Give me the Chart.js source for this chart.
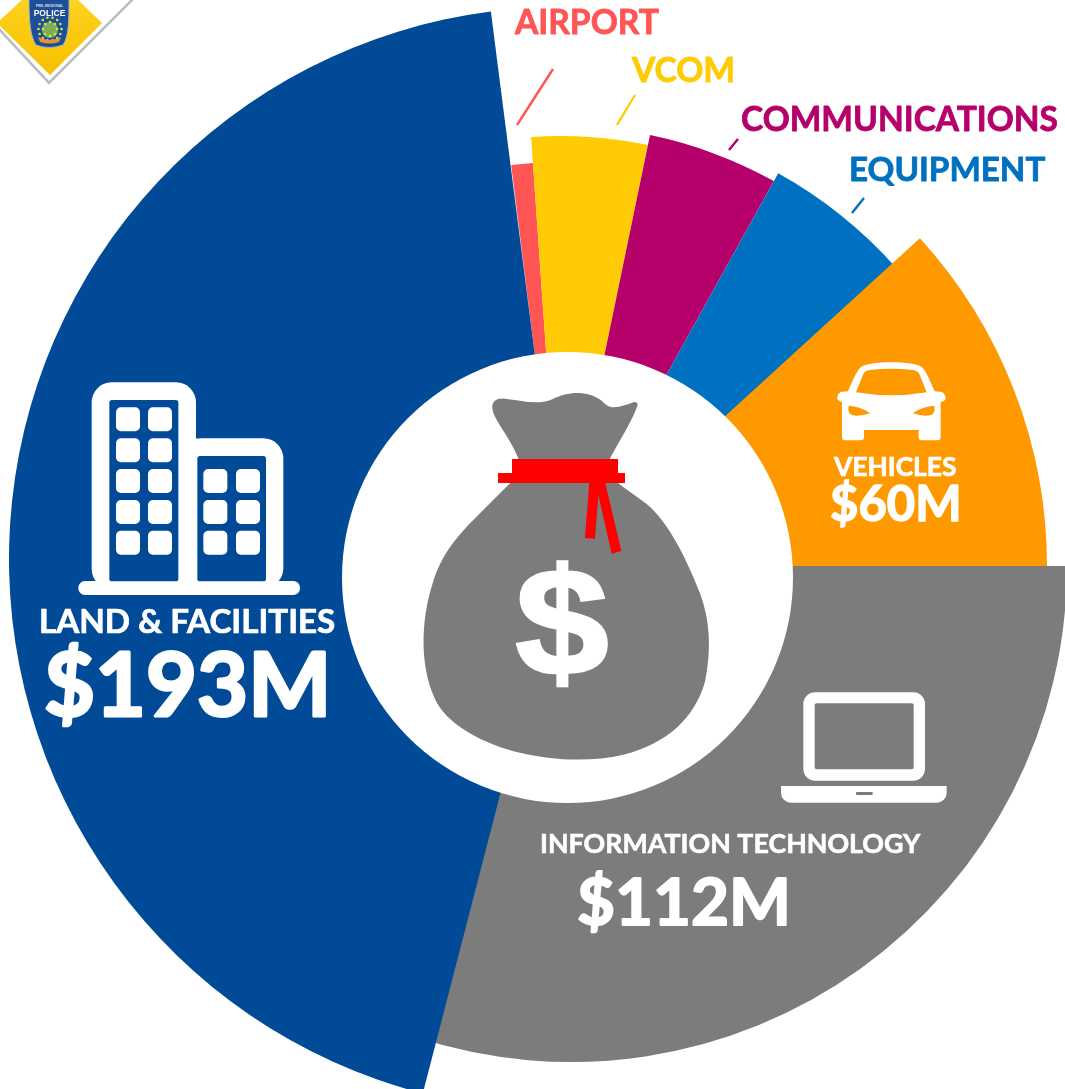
<!DOCTYPE html>
<html><head><meta charset="utf-8">
<style>html,body{margin:0;padding:0;background:#fff;overflow:hidden}#wrap{position:absolute;left:0;top:0;width:1065px;height:1089px}</style>
<script src="https://cdn.jsdelivr.net/npm/chart.js@4"></script>
</head><body><div id="wrap"><canvas id="c" width="1065" height="1089"></canvas></div>
<script>
const categories = ['Airport','VCOM','Communications','Equipment','Vehicles','Information Technology','Land & Facilities'];
const outerReach = [403, 429, 439, 448, 486, 496, 552];
const sweepDegrees = [3.1, 15.7, 17.3, 18.6, 42.4, 104.5, 158.2];
const sliceColors = ['#ff5555','#ffcb05','#b5006b','#0070c0','#ff9900','#7c7c7c','#004a97'];
const firstSliceStart = 352.9;
const sliceShiftX = [0, 0, 0, 0, 0, 10, 0];
const sliceShiftY = [0, 0, 0, 0, 1, 1, -6];
const sliceTuck = [0, 0, 0, 0.6, 0, 4, 0];
const GREY = '#7c7c7c', BLUE = '#004a97', ORANGE = '#ff9900';

function rr(ctx,x,y,w,h,r){ctx.beginPath();ctx.roundRect(x,y,w,h,r);}
function zone(ctx,ox,oy,fn){ctx.save();ctx.translate(ox,oy);ctx.scale(1/3,1/3);fn();ctx.restore();}
function txt(ctx,s,x,y,size,color,heavy){ctx.font='bold '+size+'px Lato';ctx.fillStyle=color;ctx.strokeStyle=color;ctx.lineJoin='round';ctx.lineWidth=heavy;ctx.textAlign='left';ctx.textBaseline='alphabetic';ctx.strokeText(s,x,y);ctx.fillText(s,x,y);}
function line(ctx,a,b,c,d,color){ctx.strokeStyle=color;ctx.lineWidth=2.4;ctx.beginPath();ctx.moveTo(a,b);ctx.lineTo(c,d);ctx.stroke();}

function drawLogo(ctx){
  ctx.strokeStyle='#bdbdbd';ctx.lineWidth=2.6;ctx.beginPath();ctx.moveTo(-2,28);ctx.lineTo(49,83);ctx.lineTo(134,-2);ctx.stroke();
  const g=ctx.createLinearGradient(0,0,0,75);g.addColorStop(0,'#ffd21f');g.addColorStop(1,'#f5c000');
  ctx.fillStyle=g;ctx.beginPath();ctx.moveTo(-3,23);ctx.lineTo(25,-3);ctx.lineTo(75,-3);ctx.lineTo(102,23);ctx.lineTo(50,75);ctx.closePath();ctx.fill();
  ctx.fillStyle='#1c4f96';ctx.strokeStyle='#9fb3c8';ctx.lineWidth=1;ctx.beginPath();ctx.moveTo(29,-1);ctx.lineTo(69,-1);
  ctx.bezierCurveTo(69,20,69,36,63,45);ctx.quadraticCurveTo(49,50,36,45);ctx.bezierCurveTo(30,36,29,20,29,-1);ctx.closePath();ctx.fill();ctx.stroke();
  ctx.font='bold 3.6px Lato';ctx.fillStyle='#dfe8f3';ctx.textAlign='center';ctx.fillText('PEEL REGIONAL',49.5,7);
  ctx.font='bold 8.5px "Liberation Sans"';ctx.fillStyle='#fff';ctx.fillText('POLICE',49.5,15.5);
  ctx.fillStyle='#7fae55';ctx.beginPath();ctx.arc(50,30,8,0,7);ctx.fill();
  ctx.fillStyle='#d8e04a';
  for(const [rad,n] of [[11.5,14],[7,8]])for(let i=0;i<n;i++){const a=i/n*6.283;ctx.beginPath();ctx.arc(50+rad*Math.cos(a),29+rad*Math.sin(a),1.3,0,7);ctx.fill();}
  ctx.fillStyle='#e8913a';ctx.beginPath();ctx.moveTo(38,37);ctx.quadraticCurveTo(50,43,61,37);ctx.lineTo(59,42);ctx.quadraticCurveTo(50,45,40,42);ctx.closePath();ctx.fill();
}
function drawBag(ctx){
  zone(ctx,410,380,()=>{
    ctx.fillStyle=GREY;ctx.beginPath();ctx.moveTo(247,85);
    ctx.bezierCurveTo(245,62,262,54,285,56);ctx.bezierCurveTo(330,60,385,78,430,56);
    ctx.bezierCurveTo(470,36,530,28,575,62);ctx.bezierCurveTo(600,90,620,85,672,66);
    ctx.quadraticCurveTo(686,66,682,78);ctx.bezierCurveTo(665,125,630,180,600,235);
    ctx.lineTo(625,310);ctx.bezierCurveTo(650,330,680,350,710,372);ctx.bezierCurveTo(780,430,835,550,870,640);
    ctx.bezierCurveTo(900,720,905,810,885,905);ctx.bezierCurveTo(855,1010,775,1090,640,1124);
    ctx.bezierCurveTo(540,1148,420,1140,330,1118);ctx.bezierCurveTo(230,1095,105,1035,72,950);
    ctx.bezierCurveTo(32,860,30,730,68,610);ctx.bezierCurveTo(98,510,160,450,210,400);
    ctx.lineTo(300,310);ctx.lineTo(325,235);ctx.bezierCurveTo(305,185,270,140,255,110);ctx.quadraticCurveTo(248,98,247,85);
    ctx.closePath();ctx.fill();
    ctx.fillStyle='#ff0000';ctx.fillRect(306,237,318,43);ctx.fillRect(264,279,381,30);
    ctx.beginPath();ctx.moveTo(538,305);ctx.lineTo(525,474);ctx.lineTo(555,476);ctx.lineTo(565,345);ctx.lineTo(605,521);ctx.lineTo(634,513);ctx.lineTo(585,305);ctx.closePath();ctx.fill();
  });
  ctx.save();ctx.translate(562,675);ctx.scale(1,0.9);
  ctx.font='bold 168px "Liberation Sans"';ctx.fillStyle='#fff';ctx.strokeStyle='#fff';ctx.lineWidth=3;ctx.textAlign='center';ctx.textBaseline='alphabetic';ctx.strokeText('$',0,0);ctx.fillText('$',0,0);ctx.restore();
}
function drawBuilding(ctx){
  zone(ctx,70,375,()=>{
    ctx.fillStyle='#fff';
    rr(ctx,65,22,313,620,60);ctx.fill();
    rr(ctx,330,190,310,450,60);ctx.fill();
    rr(ctx,25,618,665,42,20);ctx.fill();
    ctx.fillStyle=BLUE;
    rr(ctx,118,75,207,544,8);ctx.fill();
    rr(ctx,382,243,206,376,8);ctx.fill();
    ctx.fillStyle='#fff';
    for(const x of [138,234])for(const y of [97,190,282,375,467]){rr(ctx,x,y,72,72,15);ctx.fill();}
    for(const x of [400,498])for(const y of [282,375,467]){rr(ctx,x,y,72,72,15);ctx.fill();}
  });
}
function drawCar(ctx){
  zone(ctx,820,350,()=>{
    ctx.fillStyle='#fff';ctx.beginPath();ctx.moveTo(214,37);
    ctx.bezierCurveTo(170,37,135,42,122,52);ctx.bezierCurveTo(108,65,95,100,84,124);
    ctx.lineTo(62,126);ctx.quadraticCurveTo(50,135,52,148);ctx.quadraticCurveTo(58,156,66,156);
    ctx.lineTo(66,262);ctx.quadraticCurveTo(66,271,76,271);ctx.lineTo(122,271);ctx.quadraticCurveTo(132,271,132,262);ctx.lineTo(132,240);
    ctx.lineTo(296,240);ctx.lineTo(296,262);ctx.quadraticCurveTo(296,271,306,271);ctx.lineTo(352,271);ctx.quadraticCurveTo(362,271,362,262);
    ctx.lineTo(362,156);ctx.quadraticCurveTo(372,156,377,148);ctx.quadraticCurveTo(378,135,366,126);ctx.lineTo(344,124);
    ctx.bezierCurveTo(333,100,320,65,306,52);ctx.bezierCurveTo(293,42,258,37,214,37);ctx.closePath();ctx.fill();
    ctx.fillStyle=ORANGE;ctx.beginPath();ctx.moveTo(108,127);ctx.lineTo(130,72);ctx.quadraticCurveTo(135,62,150,60);
    ctx.quadraticCurveTo(214,52,278,60);ctx.quadraticCurveTo(293,62,298,72);ctx.lineTo(320,127);ctx.quadraticCurveTo(214,145,108,127);ctx.closePath();ctx.fill();
    ctx.beginPath();ctx.moveTo(85,172);ctx.quadraticCurveTo(85,166,95,168);ctx.quadraticCurveTo(130,174,150,190);ctx.quadraticCurveTo(120,200,98,196);ctx.quadraticCurveTo(84,192,85,172);ctx.closePath();ctx.fill();
    ctx.beginPath();ctx.moveTo(344,172);ctx.quadraticCurveTo(344,166,334,168);ctx.quadraticCurveTo(299,174,279,190);ctx.quadraticCurveTo(309,200,331,196);ctx.quadraticCurveTo(345,192,344,172);ctx.closePath();ctx.fill();
  });
}
function drawLaptop(ctx){
  zone(ctx,770,680,()=>{
    ctx.fillStyle='#fff';rr(ctx,100,37,365,265,35);ctx.fill();
    ctx.fillStyle=GREY;rr(ctx,134,70,297,198,6);ctx.fill();
    ctx.fillStyle='#fff';rr(ctx,33,318,497,50,[0,0,30,30]);ctx.fill();
    ctx.fillStyle=GREY;rr(ctx,258,336,50,9,2);ctx.fill();
  });
}
const decor = {
  id:'decor',
  afterDatasetUpdate(chart){
    chart.getDatasetMeta(0).data.forEach((arc,i)=>{
      arc.x += sliceShiftX[i];arc.y += sliceShiftY[i];
      arc.endAngle += sliceTuck[i]*Math.PI/180;
    });
  },
  afterDatasetsDraw(chart){
    const ctx=chart.ctx;ctx.save();
    ctx.fillStyle='#fff';ctx.beginPath();ctx.arc(567.5,577.5,225.5,0,Math.PI*2);ctx.fill();
    drawBag(ctx);drawBuilding(ctx);drawCar(ctx);drawLaptop(ctx);drawLogo(ctx);
    line(ctx,553,69,517,125,'#ff5555');line(ctx,635,95,617,125,'#ffcb05');line(ctx,738,139,729,150,'#b5006b');line(ctx,864,198,852,213,'#0070c0');
    txt(ctx,'AIRPORT',515,34,33.6,'#ff5555',0.8);
    txt(ctx,'VCOM',632,82,33.6,'#ffcb05',0.8);
    txt(ctx,'COMMUNICATIONS',741,131,33.5,'#b5006b',0.8);
    txt(ctx,'EQUIPMENT',849,181,33.2,'#0070c0',0.8);
    txt(ctx,'LAND & FACILITIES',39,633,33.2,'#fff',0.7);
    txt(ctx,'$193M',44,716,88,'#fff',3);
    txt(ctx,'VEHICLES',834,476,26.4,'#fff',0.7);
    txt(ctx,'$60M',830,521,49,'#fff',1.5);
    txt(ctx,'INFORMATION TECHNOLOGY',540,853,26.8,'#fff',0.6);
    txt(ctx,'$112M',577,925,65.5,'#fff',2);
    ctx.restore();
  }
};
new Chart(document.getElementById('c'),{
  type:'polarArea',
  data:{labels:categories,datasets:[{data:outerReach,backgroundColor:sliceColors,borderWidth:0,clip:false,
    angle:(c)=>sweepDegrees[c.dataIndex]}]},
  options:{responsive:false,animation:false,
    layout:{padding:{left:57,top:41,right:0,bottom:0}},
    plugins:{legend:{display:false},tooltip:{enabled:false}},
    scales:{r:{display:false,min:0,max:504,startAngle:firstSliceStart,ticks:{display:false},grid:{display:false},angleLines:{display:false},pointLabels:{display:false}}}
  },
  plugins:[decor]
});
</script></body></html>
